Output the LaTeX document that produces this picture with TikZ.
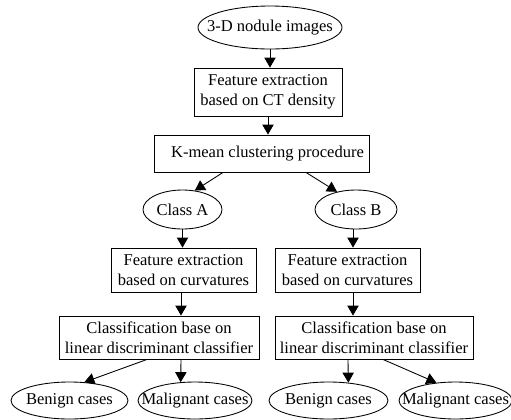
\documentclass[tikz,border=0pt]{standalone}
\usepackage{fontspec}
\setmainfont{Liberation Serif}
\usetikzlibrary{shapes.geometric,arrows.meta,calc}
\newcommand{\ztext}[1]{\makebox[0pt]{#1}}
\begin{document}
\begin{tikzpicture}[x=0.75pt,y=-0.75pt,
  every node/.style={font=\fontsize{12.4}{15}\selectfont, align=center, inner sep=0pt, line width=0.65pt},
  ell/.style={draw, ellipse},
  box/.style={draw, rectangle},
  arr/.style={line width=0.65pt, -{Triangle[length=7.5pt,width=8.5pt]}}]
\useasboundingbox (0,0) rectangle (511,419);
\node[ell, minimum width=108pt, minimum height=32.25pt] (top) at (270,27.5) {\ztext{3-D nodule images}};
\node[box, minimum width=111pt, minimum height=36pt] (fe) at (268,92) {Feature extraction\\based on CT density};
\node[box, minimum width=161.25pt, minimum height=27.75pt] (km) at (261.5,153.5) {\hspace*{9pt}K-mean clustering procedure};
\node[ell, minimum width=59.25pt, minimum height=29.25pt] (ca) at (182.5,209.5) {\ztext{Class A}};
\node[ell, minimum width=61.5pt, minimum height=29.25pt] (cb) at (356,209.5) {\ztext{Class B}};
\node[box, minimum width=108.75pt, minimum height=33pt] (fa) at (183.5,270) {Feature extraction\\based on curvatures};
\node[box, minimum width=108.75pt, minimum height=33pt] (fb) at (347.5,270) {Feature extraction\\based on curvatures};
\node[box, minimum width=150pt, minimum height=32.25pt] (cl) at (159,337.5) {Classification base on\\linear discriminant classifier};
\node[box, minimum width=148.5pt, minimum height=32.25pt] (cr) at (374,337.5) {Classification base on\\linear discriminant classifier};
\node[ell, minimum width=87.75pt, minimum height=27.75pt] (bl) at (69.5,400.5) {\ztext{Benign cases}};
\node[ell, minimum width=85.5pt, minimum height=27.75pt] (ml) at (195,400.5) {\ztext{Malignant cases}};
\node[ell, minimum width=89.25pt, minimum height=27.75pt] (br) at (328.5,400.5) {\ztext{Benign cases}};
\node[ell, minimum width=84.75pt, minimum height=27.75pt] (mr) at (455.5,400.5) {\ztext{Malignant cases}};
\draw[arr] (top.south) -- (top.south |- fe.north);
\draw[arr] (fe.south) -- (fe.south |- km.north);
\draw[arr] ($(km.south)+(-38.5,0)$) -- (ca.57);
\draw[arr] ($(km.south)+(44.5,0)$) -- (cb.137);
\draw[arr] (ca.south) -- (ca.south |- fa.north);
\draw[arr] ($(cb.south)+(-3,0)$) -- ($(fb.north)+(5.5,0)$);
\draw[arr] ($(fa.south)+(-2.5,0)$) -- ($(cl.north)+(22,0)$);
\draw[arr] ($(fb.south)+(5.5,0)$) -- ($(cr.north)+(-21,0)$);
\draw[arr] ($(cl.south)+(-12,0)$) -- (bl.51);
\draw[arr] ($(cl.south)+(22,0)$) -- (ml.128);
\draw[arr] ($(cr.south)+(-26,0)$) -- (br.42);
\draw[arr] ($(cr.south)+(9,0)$) -- (mr.137);
\end{tikzpicture}
\end{document}
